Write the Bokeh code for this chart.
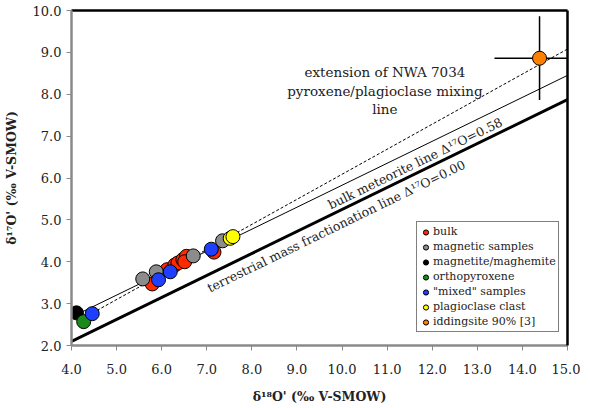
from bokeh.plotting import figure
from bokeh.models import Legend, LegendItem, Range1d, FixedTicker, LinearAxis
from bokeh.core.properties import value
from bokeh.embed import file_html
from bokeh.resources import INLINE

# ---- data ----
bulk_x = [5.79, 6.12, 6.29, 6.36, 6.47, 6.55, 6.51, 7.16]
bulk_y = [3.47, 3.81, 3.92, 3.97, 4.05, 4.13, 4.00, 4.23]
magn_x = [5.58, 5.88, 6.70, 7.35]
magn_y = [3.59, 3.76, 4.14, 4.50]
mgt_x = [4.11]
mgt_y = [2.78]
opx_x = [4.27]
opx_y = [2.57]
mixed_x = [4.46, 5.93, 6.19, 7.10]
mixed_y = [2.76, 3.57, 3.76, 4.30]
plag_x = [7.52, 7.58]
plag_y = [4.56, 4.60]
idd_x = [14.38]
idd_y = [8.86]
idd_xerr = [1.0]
idd_yerr = [1.0]

tfl_x = [4.0, 15.0]
tfl_slope = 0.5247
bml_offset = 0.58
mix_x = [4.47, 15.0]
mix_y = [2.78, 9.08]

x_ticks = [4.0, 5.0, 6.0, 7.0, 8.0, 9.0, 10.0, 11.0, 12.0, 13.0, 14.0, 15.0]
y_ticks = [2.0, 3.0, 4.0, 5.0, 6.0, 7.0, 8.0, 9.0, 10.0]

FONT = "DejaVu Serif"

p = figure(width=580, height=406, output_backend="svg", toolbar_location=None,
           x_range=Range1d(4, 15), y_range=Range1d(2, 10),
           min_border_left=71, min_border_right=13, min_border_top=10, min_border_bottom=59)
p.outline_line_color = None
p.grid.visible = False
p.background_fill_color = "white"

for ax in (p.xaxis[0], p.yaxis[0]):
    ax.axis_line_color = "#8a8a8a"
    ax.axis_line_width = 2.5
    ax.major_tick_line_color = "#8a8a8a"
    ax.major_tick_out = 5
    ax.major_tick_in = 0
    ax.minor_tick_line_color = None
    ax.major_label_text_font = FONT
    ax.major_label_text_font_size = "13px"
    ax.major_label_text_color = "#222222"
    ax.axis_label_text_font = FONT
    ax.axis_label_text_font_size = "12.5px"
    ax.axis_label_text_font_style = "bold"
    ax.axis_label_text_color = "#222222"

p.xaxis.ticker = FixedTicker(ticks=x_ticks)
p.yaxis.ticker = FixedTicker(ticks=y_ticks)
p.xaxis.major_label_overrides = {t: f"{t:.1f}" for t in x_ticks}
p.yaxis.major_label_overrides = {t: f"{t:.1f}" for t in y_ticks}
p.xaxis.axis_label = "δ¹⁸O' (‰ V-SMOW)"
p.yaxis.axis_label = "δ¹⁷O' (‰ V-SMOW)"
p.xaxis.major_label_standoff = 13
p.yaxis.major_label_standoff = 5
p.xaxis.axis_label_standoff = 12
p.yaxis.axis_label_standoff = 11

# black frame lines on top and right
for side in ("above", "right"):
    ax = LinearAxis(ticker=FixedTicker(ticks=[]), axis_line_color="black", axis_line_width=2.5,
                    major_tick_line_color=None, minor_tick_line_color=None,
                    major_label_text_font_size="0px", major_label_standoff=0)
    p.add_layout(ax, side)

# reference lines
p.line(tfl_x, [tfl_slope * x for x in tfl_x], line_color="black", line_width=3)
p.line(tfl_x, [tfl_slope * x + bml_offset for x in tfl_x], line_color="black", line_width=1)
p.line(mix_x, mix_y, line_color="black", line_width=1, line_dash="3 2")

# error bars
p.segment(x0=[x - e for x, e in zip(idd_x, idd_xerr)], x1=[x + e for x, e in zip(idd_x, idd_xerr)],
          y0=idd_y, y1=idd_y, line_color="black", line_width=1.5)
p.segment(x0=idd_x, x1=idd_x, y0=[y - e for y, e in zip(idd_y, idd_yerr)],
          y1=[y + e for y, e in zip(idd_y, idd_yerr)], line_color="black", line_width=1.5)

S = 14
r_bulk = p.scatter(bulk_x, bulk_y, size=S, fill_color="#ff2a00", line_color="black", line_width=1)
r_magn = p.scatter(magn_x, magn_y, size=S, fill_color="#8c8c8c", line_color="black", line_width=1)
r_mgt = p.scatter(mgt_x, mgt_y, size=S, fill_color="#000000", line_color="black", line_width=1)
r_opx = p.scatter(opx_x, opx_y, size=S, fill_color="#1a8a1a", line_color="black", line_width=1)
r_mix = p.scatter(mixed_x, mixed_y, size=S, fill_color="#1f3fff", line_color="black", line_width=1)
r_plag = p.scatter(plag_x, plag_y, size=S, fill_color="#ffff00", line_color="black", line_width=1)
r_idd = p.scatter(idd_x, idd_y, size=S, fill_color="#ff8000", line_color="black", line_width=1)

# annotations
mix_label_lines = ["extension of NWA 7034", "pyroxene/plagioclase mixing", "line"]
mix_label_x = [10.95, 10.95, 10.95]
mix_label_y = [8.53, 8.08, 7.65]
p.text(mix_label_x, mix_label_y, text=mix_label_lines, text_font=value(FONT),
       text_font_size="13.5px", text_align="center", text_baseline="middle", text_color="#222222")

p.text([11.62], [6.35], text=["bulk meteorite line Δ¹⁷O=0.58"], angle=26, angle_units="deg",
       text_font=value(FONT), text_font_size="12.5px", text_align="center",
       text_baseline="middle", text_color="#222222")
p.text([9.87], [4.85], text=["terrestrial mass fractionation line Δ¹⁷O=0.00"], angle=26,
       angle_units="deg", text_font=value(FONT), text_font_size="12.5px", text_align="center",
       text_baseline="middle", text_color="#222222")

legend = Legend(items=[
    LegendItem(label="bulk", renderers=[r_bulk]),
    LegendItem(label="magnetic samples", renderers=[r_magn]),
    LegendItem(label="magnetite/maghemite", renderers=[r_mgt]),
    LegendItem(label="orthopyroxene", renderers=[r_opx]),
    LegendItem(label='"mixed" samples', renderers=[r_mix]),
    LegendItem(label="plagioclase clast", renderers=[r_plag]),
    LegendItem(label="iddingsite 90% [3]", renderers=[r_idd]),
], location=(345, 13))
legend.label_text_font = FONT
legend.label_text_font_size = "11px"
legend.label_text_color = "#222222"
legend.label_height = 15
legend.glyph_height = 14
legend.glyph_width = 13
legend.label_standoff = 1
legend.spacing = 0
legend.padding = 2
legend.margin = 0
legend.border_line_color = "black"
legend.border_line_width = 1
legend.background_fill_alpha = 1
p.add_layout(legend)

open("out.html", "w").write(file_html(p, INLINE))
